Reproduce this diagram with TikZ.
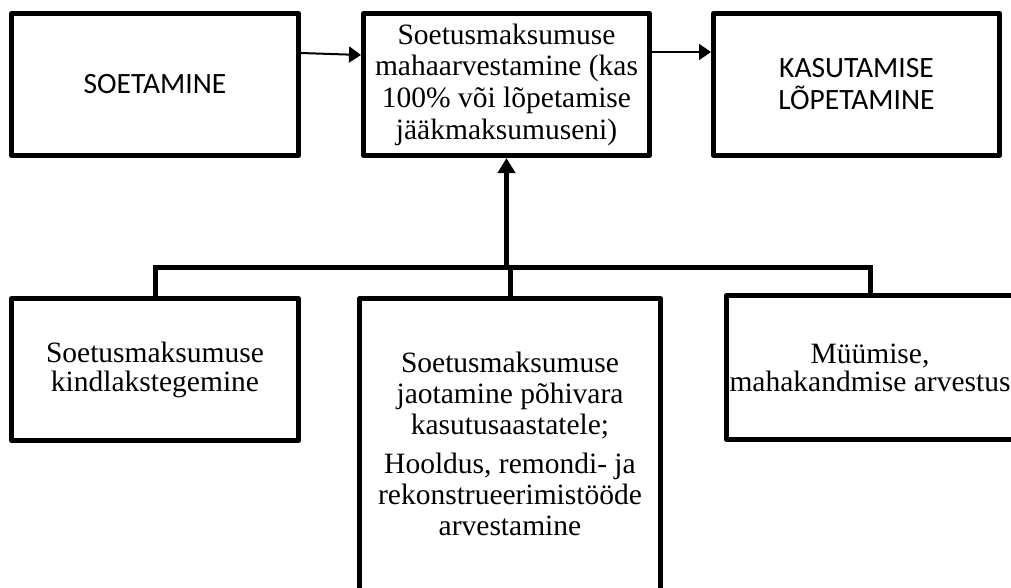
\documentclass[tikz,border=0pt]{standalone}
\usepackage{fontspec}
\setmainfont{Liberation Serif}
\newfontfamily\calib{Carlito}
\usetikzlibrary{arrows.meta}
\begin{document}
\begin{tikzpicture}[x=1pt,y=-1pt,
  box/.style={draw=black, line width=5pt, fill=white, inner sep=0pt, align=center, line join=round},
  serif/.style={font=\fontsize{29.5}{#1}\selectfont},
  sans/.style={font=\calib\fontsize{29.5}{32}\selectfont},
  txt/.style={inner sep=0pt, align=center},
  bus/.style={draw=black, line width=5pt, line join=miter},
  bigarrow/.style={draw=black, line width=5.5pt, -{Triangle[length=15pt,width=17pt]}},
  thinarrow/.style={draw=black, line width=2pt, -{Triangle[length=12pt,width=16pt]}},
]
\useasboundingbox (0,0) rectangle (1011,587);
\fill[white] (0,0) rectangle (1011,587);
\clip (0,0) rectangle (1011,587);

% top row
\node[box, sans, minimum width=287pt, minimum height=142pt] (A) at (155,84.5) {SOETAMINE};
\node[box, serif=31.7, minimum width=286pt, minimum height=142pt] (B) at (506.5,84.5)
  {Soetusmaksumuse\\mahaarvestamine (kas\\100\% või lõpetamise\\jääkmaksumuseni)};
\node[box, sans, minimum width=286pt, minimum height=142pt] (C) at (856.5,84.5) {KASUTAMISE\\LÕPETAMINE};

% bottom row
\node[box, serif=29, minimum width=287pt, minimum height=142pt] (D) at (155,369.5)
  {Soetusmaksumuse\\kindlakstegemine};
\node[box, minimum width=301pt, minimum height=400pt, anchor=north] (E) at (510,296) {};
\node[txt, serif=30.8, anchor=north] (Et) at (510,351.9)
  {Soetusmaksumuse\\jaotamine põhivara\\kasutusaastatele;\\[9pt]Hooldus, remondi- ja\\rekonstrueerimistööde\\arvestamine};
\node[box, serif=28, minimum width=287pt, minimum height=144pt] (F) at (870,367.5)
  {Müümise,\\mahakandmise arvestus};

% connectors
\coordinate (bus) at (506.5,267);
\draw[bus] (D.north) -- (D.north |- bus) -- (F.north |- bus) -- (F.north);
\draw[bus] (E.north) -- (E.north |- bus);
\draw[bigarrow] (bus) -- (B.south);
\draw[thinarrow] ([yshift=31.5pt]A.east) -- ([yshift=29.5pt]B.west);
\draw[thinarrow] ([yshift=32.5pt]B.east) -- ([yshift=32.5pt]C.west);
\end{tikzpicture}
\end{document}
